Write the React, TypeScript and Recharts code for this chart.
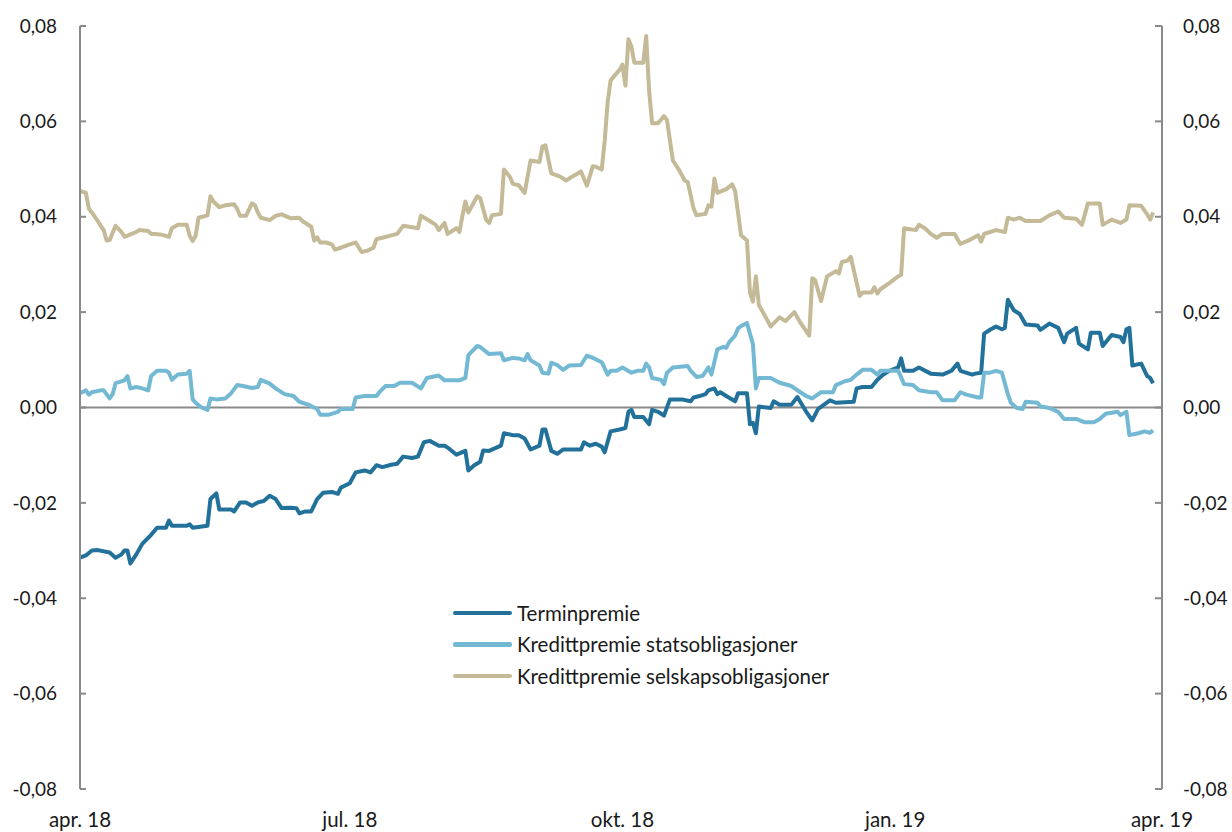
import React from 'react';
import { LineChart, Line, XAxis, YAxis, ReferenceLine } from 'recharts';

// Daglige observasjoner lest av figuren (dato, verdi)
const terminpremie: [string, number][] = [
  ['2018-04-01', -0.0315], ['2018-04-03', -0.031], ['2018-04-04', -0.0305], ['2018-04-05', -0.03],
  ['2018-04-07', -0.0299], ['2018-04-11', -0.0304], ['2018-04-13', -0.0315], ['2018-04-15', -0.0308],
  ['2018-04-16', -0.03], ['2018-04-17', -0.03], ['2018-04-18', -0.0327], ['2018-04-20', -0.0308],
  ['2018-04-22', -0.0286], ['2018-04-25', -0.0267], ['2018-04-27', -0.0252], ['2018-04-30', -0.0252],
  ['2018-05-01', -0.0237], ['2018-05-02', -0.0248], ['2018-05-07', -0.0248], ['2018-05-08', -0.0245],
  ['2018-05-09', -0.0252], ['2018-05-14', -0.0248], ['2018-05-15', -0.0192], ['2018-05-17', -0.018],
  ['2018-05-18', -0.0214], ['2018-05-22', -0.0214], ['2018-05-23', -0.0218], ['2018-05-25', -0.0199],
  ['2018-05-27', -0.0199], ['2018-05-29', -0.0206], ['2018-05-31', -0.0199], ['2018-06-02', -0.0196],
  ['2018-06-04', -0.0185], ['2018-06-06', -0.0192], ['2018-06-08', -0.0211], ['2018-06-11', -0.021],
  ['2018-06-13', -0.0211], ['2018-06-14', -0.0222], ['2018-06-16', -0.0218], ['2018-06-18', -0.0218],
  ['2018-06-20', -0.0192], ['2018-06-22', -0.0179], ['2018-06-25', -0.0177], ['2018-06-27', -0.0181],
  ['2018-06-28', -0.0168], ['2018-07-01', -0.0159], ['2018-07-03', -0.0136], ['2018-07-06', -0.0132],
  ['2018-07-08', -0.0136], ['2018-07-10', -0.0121], ['2018-07-12', -0.0125], ['2018-07-15', -0.012],
  ['2018-07-17', -0.0118], ['2018-07-19', -0.0103], ['2018-07-22', -0.0106], ['2018-07-24', -0.0103],
  ['2018-07-26', -0.0073], ['2018-07-28', -0.007], ['2018-07-31', -0.008], ['2018-08-02', -0.008],
  ['2018-08-03', -0.0084], ['2018-08-06', -0.0099], ['2018-08-09', -0.0091], ['2018-08-10', -0.0132],
  ['2018-08-12', -0.0121], ['2018-08-14', -0.0114], ['2018-08-15', -0.009], ['2018-08-17', -0.0091],
  ['2018-08-21', -0.008], ['2018-08-22', -0.0054], ['2018-08-25', -0.0058], ['2018-08-27', -0.0058],
  ['2018-08-29', -0.0065], ['2018-08-31', -0.0088], ['2018-09-03', -0.008], ['2018-09-04', -0.0046],
  ['2018-09-05', -0.0046], ['2018-09-07', -0.0091], ['2018-09-09', -0.0097], ['2018-09-11', -0.0088],
  ['2018-09-17', -0.0088], ['2018-09-18', -0.0073], ['2018-09-20', -0.008], ['2018-09-22', -0.0076],
  ['2018-09-24', -0.0082], ['2018-09-25', -0.0094], ['2018-09-27', -0.005], ['2018-09-30', -0.0046],
  ['2018-10-02', -0.0043], ['2018-10-03', -0.0009], ['2018-10-04', -0.0005], ['2018-10-05', -0.002],
  ['2018-10-08', -0.002], ['2018-10-10', -0.0035], ['2018-10-11', -0.0005], ['2018-10-13', -0.0009],
  ['2018-10-15', -0.0017], ['2018-10-17', 0.0017], ['2018-10-21', 0.0017], ['2018-10-24', 0.0013],
  ['2018-10-25', 0.0021], ['2018-10-27', 0.0024], ['2018-10-29', 0.0028], ['2018-10-30', 0.0036],
  ['2018-11-01', 0.004], ['2018-11-02', 0.0028], ['2018-11-03', 0.0032], ['2018-11-05', 0.0024],
  ['2018-11-08', 0.0013], ['2018-11-09', 0.003], ['2018-11-12', 0.003], ['2018-11-13', -0.0035],
  ['2018-11-14', -0.0032], ['2018-11-15', -0.0054], ['2018-11-16', 0.0002], ['2018-11-20', -0.0001],
  ['2018-11-21', 0.0013], ['2018-11-23', 0.0006], ['2018-11-27', 0.0006], ['2018-11-29', 0.0022],
  ['2018-12-02', -0.0009], ['2018-12-04', -0.0027], ['2018-12-06', -0.0003], ['2018-12-08', 0.0006],
  ['2018-12-10', 0.0015], ['2018-12-12', 0.001], ['2018-12-18', 0.0012], ['2018-12-19', 0.004],
  ['2018-12-21', 0.0043], ['2018-12-24', 0.0043], ['2018-12-26', 0.0058], ['2018-12-28', 0.0069],
  ['2018-12-30', 0.0077], ['2019-01-02', 0.0084], ['2019-01-03', 0.0103], ['2019-01-04', 0.0077],
  ['2019-01-07', 0.0077], ['2019-01-09', 0.0084], ['2019-01-13', 0.0071], ['2019-01-17', 0.0069],
  ['2019-01-20', 0.0077], ['2019-01-22', 0.0092], ['2019-01-23', 0.0077], ['2019-01-27', 0.0069],
  ['2019-01-28', 0.0071], ['2019-01-30', 0.0073], ['2019-01-31', 0.0155], ['2019-02-02', 0.0163],
  ['2019-02-04', 0.017], ['2019-02-06', 0.0164], ['2019-02-07', 0.0167], ['2019-02-08', 0.0226],
  ['2019-02-10', 0.0204], ['2019-02-12', 0.0196], ['2019-02-14', 0.0174], ['2019-02-18', 0.0172],
  ['2019-02-19', 0.0163], ['2019-02-22', 0.0176], ['2019-02-25', 0.0167], ['2019-02-27', 0.0137],
  ['2019-02-28', 0.0155], ['2019-03-03', 0.0167], ['2019-03-04', 0.0134], ['2019-03-07', 0.0122],
  ['2019-03-08', 0.0157], ['2019-03-11', 0.0157], ['2019-03-12', 0.0129], ['2019-03-15', 0.0152],
  ['2019-03-18', 0.0148], ['2019-03-19', 0.0137], ['2019-03-20', 0.0164], ['2019-03-21', 0.0167],
  ['2019-03-22', 0.0088], ['2019-03-25', 0.0092], ['2019-03-27', 0.0066], ['2019-03-28', 0.0062],
  ['2019-03-29', 0.0051],
];

const kredittStat: [string, number][] = [
  ['2018-04-01', 0.003], ['2018-04-03', 0.0036], ['2018-04-04', 0.0027], ['2018-04-05', 0.0032],
  ['2018-04-08', 0.0036], ['2018-04-09', 0.0036], ['2018-04-11', 0.0019], ['2018-04-12', 0.0028],
  ['2018-04-13', 0.0051], ['2018-04-16', 0.0057], ['2018-04-17', 0.0066], ['2018-04-18', 0.004],
  ['2018-04-20', 0.0043], ['2018-04-22', 0.004], ['2018-04-24', 0.0036], ['2018-04-25', 0.0066],
  ['2018-04-27', 0.0077], ['2018-04-30', 0.0077], ['2018-05-01', 0.0073], ['2018-05-02', 0.0058],
  ['2018-05-04', 0.0069], ['2018-05-07', 0.0071], ['2018-05-08', 0.0077], ['2018-05-09', 0.0017],
  ['2018-05-10', 0.001], ['2018-05-12', 0.0], ['2018-05-14', -0.0005], ['2018-05-15', 0.0019],
  ['2018-05-17', 0.0017], ['2018-05-20', 0.0019], ['2018-05-22', 0.003], ['2018-05-24', 0.0047],
  ['2018-05-26', 0.0045], ['2018-05-29', 0.0041], ['2018-05-31', 0.0043], ['2018-06-01', 0.0058],
  ['2018-06-04', 0.005], ['2018-06-06', 0.004], ['2018-06-09', 0.0028], ['2018-06-12', 0.0024],
  ['2018-06-14', 0.0012], ['2018-06-17', 0.0006], ['2018-06-20', -0.0003], ['2018-06-21', -0.0015],
  ['2018-06-24', -0.0015], ['2018-06-27', -0.0009], ['2018-06-28', -0.0003], ['2018-07-02', -0.0003],
  ['2018-07-03', 0.0021], ['2018-07-06', 0.0024], ['2018-07-10', 0.0024], ['2018-07-11', 0.0032],
  ['2018-07-13', 0.0045], ['2018-07-16', 0.0045], ['2018-07-18', 0.0052], ['2018-07-22', 0.0052],
  ['2018-07-25', 0.004], ['2018-07-27', 0.0062], ['2018-07-31', 0.0067], ['2018-08-02', 0.0057],
  ['2018-08-07', 0.0057], ['2018-08-09', 0.0062], ['2018-08-10', 0.011], ['2018-08-13', 0.0129],
  ['2018-08-14', 0.0127], ['2018-08-17', 0.0112], ['2018-08-21', 0.0114], ['2018-08-22', 0.0099],
  ['2018-08-25', 0.0104], ['2018-08-27', 0.0103], ['2018-08-29', 0.0099], ['2018-08-30', 0.0112],
  ['2018-08-31', 0.0099], ['2018-09-03', 0.0088], ['2018-09-04', 0.0073], ['2018-09-06', 0.0071],
  ['2018-09-07', 0.0094], ['2018-09-09', 0.0089], ['2018-09-11', 0.0079], ['2018-09-13', 0.0088],
  ['2018-09-17', 0.0089], ['2018-09-19', 0.0109], ['2018-09-21', 0.0104], ['2018-09-24', 0.0095],
  ['2018-09-26', 0.0069], ['2018-09-27', 0.0077], ['2018-09-29', 0.0077], ['2018-10-01', 0.0084],
  ['2018-10-04', 0.0073], ['2018-10-06', 0.0077], ['2018-10-08', 0.0077], ['2018-10-09', 0.0092],
  ['2018-10-10', 0.0084], ['2018-10-11', 0.0062], ['2018-10-14', 0.0058], ['2018-10-15', 0.0049],
  ['2018-10-16', 0.0073], ['2018-10-18', 0.0084], ['2018-10-23', 0.0087], ['2018-10-24', 0.0077],
  ['2018-10-26', 0.0064], ['2018-10-28', 0.0066], ['2018-10-30', 0.0084], ['2018-10-31', 0.0069],
  ['2018-11-02', 0.0122], ['2018-11-04', 0.0127], ['2018-11-05', 0.0125], ['2018-11-06', 0.0137],
  ['2018-11-08', 0.0151], ['2018-11-09', 0.0166], ['2018-11-10', 0.0171], ['2018-11-12', 0.0177],
  ['2018-11-14', 0.0133], ['2018-11-15', 0.004], ['2018-11-16', 0.0062], ['2018-11-20', 0.0062],
  ['2018-11-23', 0.0052], ['2018-11-27', 0.0045], ['2018-11-30', 0.0032], ['2018-12-02', 0.0024],
  ['2018-12-04', 0.0019], ['2018-12-07', 0.0032], ['2018-12-11', 0.0032], ['2018-12-12', 0.0047],
  ['2018-12-15', 0.0055], ['2018-12-17', 0.0058], ['2018-12-19', 0.0069], ['2018-12-21', 0.0079],
  ['2018-12-24', 0.0079], ['2018-12-26', 0.0069], ['2018-12-27', 0.0077], ['2018-12-30', 0.0077],
  ['2019-01-02', 0.0077], ['2019-01-04', 0.0049], ['2019-01-07', 0.0047], ['2019-01-09', 0.0036],
  ['2019-01-13', 0.0032], ['2019-01-15', 0.0032], ['2019-01-17', 0.0015], ['2019-01-21', 0.0015],
  ['2019-01-23', 0.0032], ['2019-01-25', 0.0027], ['2019-01-29', 0.0021], ['2019-01-30', 0.0021],
  ['2019-01-31', 0.0073], ['2019-02-02', 0.0073], ['2019-02-04', 0.0077], ['2019-02-06', 0.0073],
  ['2019-02-08', 0.0028], ['2019-02-09', 0.001], ['2019-02-11', -0.0001], ['2019-02-13', -0.0003],
  ['2019-02-14', 0.0012], ['2019-02-18', 0.001], ['2019-02-19', 0.0002], ['2019-02-22', -0.0001],
  ['2019-02-25', -0.0009], ['2019-02-27', -0.0024], ['2019-03-03', -0.0024], ['2019-03-06', -0.0031],
  ['2019-03-09', -0.0031], ['2019-03-11', -0.0024], ['2019-03-13', -0.0013], ['2019-03-17', -0.0009],
  ['2019-03-18', -0.0016], ['2019-03-20', -0.0009], ['2019-03-21', -0.0058], ['2019-03-24', -0.0054],
  ['2019-03-26', -0.005], ['2019-03-28', -0.0053], ['2019-03-29', -0.0048],
];

const kredittSelskap: [string, number][] = [
  ['2018-04-01', 0.0454], ['2018-04-03', 0.045], ['2018-04-04', 0.0417], ['2018-04-05', 0.0409],
  ['2018-04-07', 0.0391], ['2018-04-08', 0.0381], ['2018-04-09', 0.0372], ['2018-04-10', 0.035],
  ['2018-04-11', 0.0351], ['2018-04-13', 0.0381], ['2018-04-15', 0.0368], ['2018-04-16', 0.0358],
  ['2018-04-18', 0.0363], ['2018-04-20', 0.0368], ['2018-04-21', 0.0372], ['2018-04-24', 0.037],
  ['2018-04-25', 0.0364], ['2018-04-26', 0.0364], ['2018-04-28', 0.0363], ['2018-04-30', 0.036],
  ['2018-05-01', 0.0358], ['2018-05-02', 0.0376], ['2018-05-04', 0.0383], ['2018-05-07', 0.0383],
  ['2018-05-08', 0.036], ['2018-05-09', 0.0349], ['2018-05-10', 0.036], ['2018-05-11', 0.0398],
  ['2018-05-14', 0.0403], ['2018-05-15', 0.0443], ['2018-05-16', 0.0432], ['2018-05-18', 0.042],
  ['2018-05-20', 0.0424], ['2018-05-23', 0.0426], ['2018-05-24', 0.0417], ['2018-05-25', 0.0402],
  ['2018-05-27', 0.0402], ['2018-05-29', 0.0428], ['2018-05-30', 0.0424], ['2018-05-31', 0.0409],
  ['2018-06-01', 0.0398], ['2018-06-04', 0.0393], ['2018-06-06', 0.0402], ['2018-06-08', 0.0405],
  ['2018-06-11', 0.0397], ['2018-06-14', 0.0398], ['2018-06-15', 0.0391], ['2018-06-18', 0.0379],
  ['2018-06-19', 0.035], ['2018-06-20', 0.0357], ['2018-06-21', 0.0346], ['2018-06-23', 0.0346],
  ['2018-06-25', 0.0342], ['2018-06-26', 0.0331], ['2018-06-28', 0.0335], ['2018-07-01', 0.0342],
  ['2018-07-03', 0.0346], ['2018-07-05', 0.0326], ['2018-07-07', 0.0329], ['2018-07-09', 0.0335],
  ['2018-07-10', 0.0353], ['2018-07-12', 0.0356], ['2018-07-15', 0.0361], ['2018-07-17', 0.0364],
  ['2018-07-19', 0.0381], ['2018-07-21', 0.0379], ['2018-07-24', 0.0376], ['2018-07-25', 0.0402],
  ['2018-07-28', 0.0391], ['2018-07-30', 0.0383], ['2018-07-31', 0.0372], ['2018-08-02', 0.0387],
  ['2018-08-03', 0.0364], ['2018-08-06', 0.0376], ['2018-08-07', 0.0368], ['2018-08-08', 0.0402],
  ['2018-08-09', 0.0432], ['2018-08-10', 0.0409], ['2018-08-13', 0.0443], ['2018-08-14', 0.0439],
  ['2018-08-16', 0.0394], ['2018-08-17', 0.0387], ['2018-08-18', 0.0403], ['2018-08-21', 0.0406],
  ['2018-08-22', 0.0499], ['2018-08-24', 0.0484], ['2018-08-25', 0.0469], ['2018-08-27', 0.0466],
  ['2018-08-29', 0.045], ['2018-08-31', 0.0518], ['2018-09-03', 0.0515], ['2018-09-04', 0.0547],
  ['2018-09-05', 0.055], ['2018-09-07', 0.0491], ['2018-09-10', 0.0484], ['2018-09-12', 0.0476],
  ['2018-09-14', 0.0484], ['2018-09-17', 0.0495], ['2018-09-19', 0.0465], ['2018-09-21', 0.0506],
  ['2018-09-22', 0.0505], ['2018-09-24', 0.0499], ['2018-09-25', 0.0559], ['2018-09-26', 0.0641],
  ['2018-09-27', 0.0686], ['2018-09-30', 0.0708], ['2018-10-01', 0.0719], ['2018-10-02', 0.0675],
  ['2018-10-03', 0.0772], ['2018-10-04', 0.0757], ['2018-10-05', 0.0723], ['2018-10-08', 0.0723],
  ['2018-10-09', 0.0779], ['2018-10-10', 0.0663], ['2018-10-11', 0.0596], ['2018-10-13', 0.0596],
  ['2018-10-15', 0.0611], ['2018-10-16', 0.0603], ['2018-10-18', 0.0518], ['2018-10-20', 0.0499],
  ['2018-10-22', 0.0476], ['2018-10-23', 0.0473], ['2018-10-25', 0.0417], ['2018-10-26', 0.0403],
  ['2018-10-29', 0.0406], ['2018-10-30', 0.0424], ['2018-10-31', 0.0421], ['2018-11-01', 0.048],
  ['2018-11-02', 0.045], ['2018-11-05', 0.0458], ['2018-11-07', 0.0468], ['2018-11-08', 0.0454],
  ['2018-11-10', 0.0361], ['2018-11-12', 0.035], ['2018-11-13', 0.0241], ['2018-11-14', 0.0222],
  ['2018-11-15', 0.0275], ['2018-11-16', 0.0215], ['2018-11-18', 0.0193], ['2018-11-20', 0.017],
  ['2018-11-23', 0.0189], ['2018-11-25', 0.0181], ['2018-11-28', 0.02], ['2018-11-30', 0.0178],
  ['2018-12-03', 0.0151], ['2018-12-04', 0.0271], ['2018-12-05', 0.0267], ['2018-12-07', 0.0223],
  ['2018-12-09', 0.0275], ['2018-12-12', 0.0286], ['2018-12-13', 0.0281], ['2018-12-14', 0.0305],
  ['2018-12-16', 0.0308], ['2018-12-17', 0.0316], ['2018-12-20', 0.0234], ['2018-12-21', 0.0241],
  ['2018-12-24', 0.0241], ['2018-12-25', 0.0252], ['2018-12-26', 0.0239], ['2018-12-27', 0.0248],
  ['2018-12-30', 0.0261], ['2019-01-02', 0.0275], ['2019-01-03', 0.0278], ['2019-01-04', 0.0376],
  ['2019-01-08', 0.0372], ['2019-01-09', 0.0383], ['2019-01-11', 0.0376], ['2019-01-13', 0.0364],
  ['2019-01-15', 0.0356], ['2019-01-17', 0.0364], ['2019-01-21', 0.0364], ['2019-01-23', 0.0343],
  ['2019-01-26', 0.0351], ['2019-01-29', 0.0361], ['2019-01-30', 0.0348], ['2019-01-31', 0.0364],
  ['2019-02-02', 0.0368], ['2019-02-04', 0.0372], ['2019-02-07', 0.0368], ['2019-02-08', 0.0398],
  ['2019-02-10', 0.0394], ['2019-02-12', 0.0398], ['2019-02-14', 0.0391], ['2019-02-19', 0.0391],
  ['2019-02-22', 0.0403], ['2019-02-25', 0.0411], ['2019-02-27', 0.0398], ['2019-03-03', 0.0396],
  ['2019-03-05', 0.0383], ['2019-03-07', 0.0428], ['2019-03-11', 0.0428], ['2019-03-12', 0.0383],
  ['2019-03-15', 0.0394], ['2019-03-18', 0.0387], ['2019-03-20', 0.0394], ['2019-03-21', 0.0424],
  ['2019-03-25', 0.0423], ['2019-03-27', 0.0405], ['2019-03-28', 0.0394], ['2019-03-29', 0.0409],
];

const xTickDates = ['2018-04-01', '2018-07-01', '2018-10-01', '2019-01-01', '2019-04-01'];
const xTickLabels = ['apr. 18', 'jul. 18', 'okt. 18', 'jan. 19', 'apr. 19'];
const yTicks = [-0.08, -0.06, -0.04, -0.02, 0, 0.02, 0.04, 0.06, 0.08];

const FONT = 'Lato, "Open Sans", sans-serif';
const AXIS_GREY = '#8a8a8a';
const TEXT = '#1a1a1a';

const toRows = (pts: [string, number][]) => pts.map(([d, v]) => ({ t: Date.parse(d), v }));

const series = [
  { key: 'termin', name: 'Terminpremie', color: '#22719a', axis: 'left', data: toRows(terminpremie) },
  { key: 'stat', name: 'Kredittpremie statsobligasjoner', color: '#74b9d4', axis: 'left', data: toRows(kredittStat) },
  { key: 'selskap', name: 'Kredittpremie selskapsobligasjoner', color: '#c5ba97', axis: 'right', data: toRows(kredittSelskap) },
];

const xTicks = xTickDates.map((d) => Date.parse(d));
const fmtY = (v: number) => (Math.abs(v) < 1e-9 ? '0,00' : v.toFixed(2).replace('.', ','));

const LEFT_GAP = 23;
const RIGHT_GAP = 21;

const LeftTick = ({ x, y, payload }: any) => (
  <g>
    <line x1={x + LEFT_GAP} x2={x + LEFT_GAP + 6} y1={y} y2={y} stroke={AXIS_GREY} strokeWidth={2} />
    <text x={x} y={y} dy="0.35em" textAnchor="end" fill={TEXT} fontSize={19} fontFamily={FONT}>
      {fmtY(payload.value)}
    </text>
  </g>
);

const RightTick = ({ x, y, payload }: any) => (
  <g>
    <line x1={x - RIGHT_GAP} x2={x - RIGHT_GAP - 7} y1={y} y2={y} stroke={AXIS_GREY} strokeWidth={2} />
    <text x={x} y={y} dy="0.35em" textAnchor="start" fill={TEXT} fontSize={19} fontFamily={FONT}>
      {fmtY(payload.value)}
    </text>
  </g>
);

const BottomTick = ({ x, y, payload }: any) => {
  const i = xTicks.indexOf(payload.value);
  return (
    <text x={x} y={y + 38} textAnchor="middle" fill={TEXT} fontSize={20.5} fontFamily={FONT}>
      {xTickLabels[i]}
    </text>
  );
};

const LegendBox = () => (
  <div
    style={{
      position: 'absolute',
      left: 453,
      top: 597,
      fontFamily: FONT,
      fontSize: 20.5,
      color: TEXT,
    }}
  >
    {series.map((s) => (
      <div key={s.key} style={{ display: 'flex', alignItems: 'center', height: 31.5, whiteSpace: 'nowrap' }}>
        <span style={{ display: 'inline-block', width: 59, height: 4.5, background: s.color, borderRadius: 2, marginRight: 5 }} />
        {s.name}
      </div>
    ))}
  </div>
);

const App: React.FC = () => {
  return (
    <div style={{ position: 'absolute', left: 0, top: 0, width: 1232, height: 832, background: '#fff' }}>
      <LineChart width={1232} height={832} margin={{ top: 26, right: 10, bottom: 0, left: 20 }}>
        <XAxis
          dataKey="t"
          type="number"
          scale="time"
          domain={[xTicks[0], xTicks[xTicks.length - 1]]}
          ticks={xTicks}
          axisLine={false}
          tickLine={false}
          tickSize={0}
          tickMargin={0}
          height={43}
          tick={<BottomTick />}
          allowDuplicatedCategory={false}
        />
        <YAxis
          yAxisId="left"
          orientation="left"
          domain={[-0.08, 0.08]}
          ticks={yTicks}
          width={60}
          tickLine={false}
          tickSize={0}
          tickMargin={LEFT_GAP}
          axisLine={{ stroke: AXIS_GREY, strokeWidth: 2 }}
          tick={<LeftTick />}
        />
        <YAxis
          yAxisId="right"
          orientation="right"
          domain={[-0.08, 0.08]}
          ticks={yTicks}
          width={60}
          tickLine={false}
          tickSize={0}
          tickMargin={RIGHT_GAP}
          axisLine={{ stroke: AXIS_GREY, strokeWidth: 2 }}
          tick={<RightTick />}
        />
        <ReferenceLine yAxisId="left" y={0} stroke={AXIS_GREY} strokeWidth={2} />
        {series.map((s) => (
          <Line
            key={s.key}
            yAxisId={s.axis}
            data={s.data}
            dataKey="v"
            name={s.name}
            type="linear"
            stroke={s.color}
            strokeWidth={4}
            strokeLinejoin="round"
            dot={false}
            isAnimationActive={false}
          />
        ))}
      </LineChart>
      <LegendBox />
    </div>
  );
};

export default App;
